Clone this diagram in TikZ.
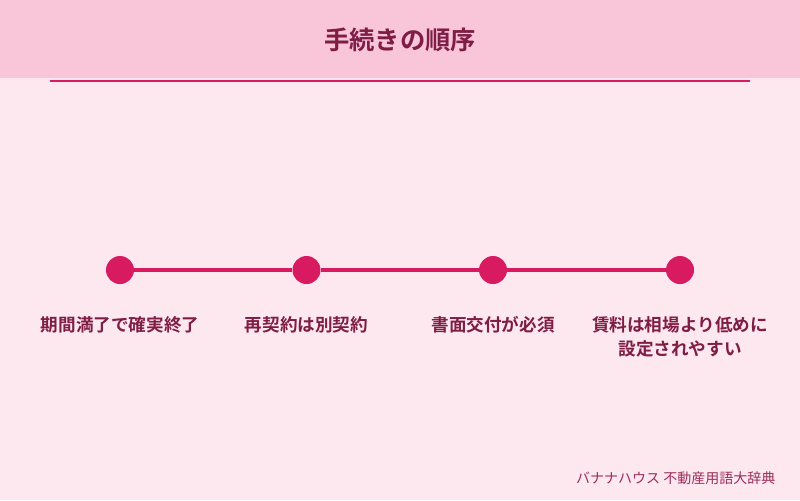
\documentclass[tikz,border=0pt]{standalone}
\usepackage{fontspec}
\setmainfont{Noto Sans CJK JP}
\newfontfamily\jpbold{Noto Sans CJK JP Bold}
\definecolor{bgpink}{HTML}{FDE8EF}
\definecolor{headpink}{HTML}{F8C6D8}
\definecolor{accent}{HTML}{D81B60}
\definecolor{darktext}{HTML}{7F1D45}
\definecolor{foottext}{HTML}{9B2D5A}
\begin{document}
\begin{tikzpicture}[x=0.75pt,y=-0.75pt,
  dot/.style={circle,fill=accent,minimum size=21pt,inner sep=0pt},
  steplabel/.style={font=\jpbold\fontsize{13.2}{18.5}\selectfont,text=darktext,align=center,anchor=north,inner sep=0pt}]
\useasboundingbox (0,0) rectangle (800,500);
\fill[bgpink] (0,0) rectangle (800,500);
\fill[headpink] (0,0) rectangle (800,78);
\node[font=\jpbold\fontsize{19}{22}\selectfont,text=darktext] (title) at (400,40) {手続きの順序};
\coordinate (rl) at (50,80.5);
\coordinate (rr) at (750,80.5);
\draw[accent,line width=1.5pt] (rl) -- (rr);
\node[dot] (d1) at (120,270) {};
\node[dot] (d2) at (306.5,270) {};
\node[dot] (d3) at (493,270) {};
\node[dot] (d4) at (680,270) {};
\draw[accent,line width=3pt] (d1) -- (d2);
\draw[accent,line width=3pt] (d2) -- (d3);
\draw[accent,line width=3pt] (d3) -- (d4);
\node[steplabel] (l1) at (120,316) {期間満了で確実終了};
\node[steplabel] (l2) at (306.5,316) {再契約は別契約};
\node[steplabel] (l3) at (493,316) {書面交付が必須};
\node[steplabel] (l4) at (680,316) {賃料は相場より低めに\\設定されやすい};
\node[anchor=east,font=\fontsize{10.5}{13}\selectfont,text=foottext] (foot) at (780,478) {バナナハウス 不動産用語大辞典};
\end{tikzpicture}
\end{document}
